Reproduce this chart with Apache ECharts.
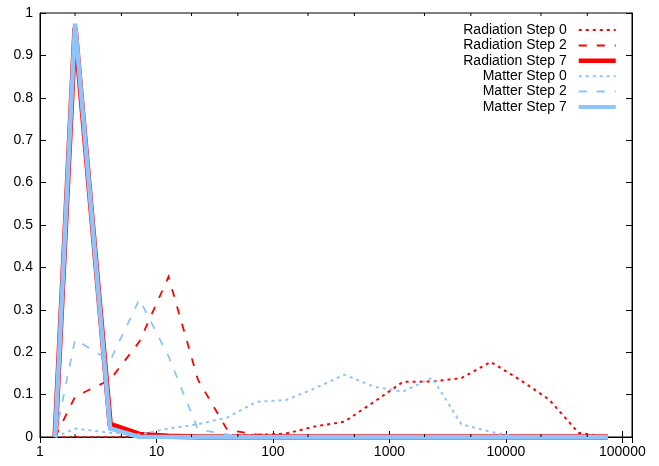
<!DOCTYPE html>
<html>
<head>
<meta charset="utf-8">
<script src="https://cdn.jsdelivr.net/npm/echarts@6/dist/echarts.min.js"></script>
<style>
html,body{margin:0;padding:0;background:#fff;}
#c{width:659px;height:466px;}
</style>
</head>
<body>
<div id="c"></div>
<script>
// x grid (shared by all series)
const xValues = [1.35, 2, 4, 7.14, 12.7, 22.7, 40.5, 72.2, 129, 230, 410, 731, 1305, 2328, 4152, 7406, 13210, 23565, 42035, 75000];
const radStep0 = [0, 0, 0, 0, 0, 0, 0.003, 0.005, 0.008, 0.025, 0.036, 0.082, 0.13, 0.131, 0.139, 0.177, 0.135, 0.088, 0.01, 0];
const radStep2 = [0, 0.095, 0.135, 0.225, 0.378, 0.135, 0.017, 0.006, 0.003, 0, 0, 0, 0, 0, 0, 0, 0, 0, 0, 0];
const radStep7 = [0, 0.965, 0.03, 0.006, 0.002, 0, 0, 0, 0, 0, 0, 0, 0, 0, 0, 0, 0, 0, 0, 0];
const matStep0 = [0, 0.02, 0.01, 0.006, 0.02, 0.03, 0.046, 0.083, 0.087, 0.115, 0.147, 0.119, 0.107, 0.14, 0.03, 0.012, 0, 0, 0, 0];
const matStep2 = [0, 0.23, 0.18, 0.325, 0.19, 0.018, 0.006, 0, 0, 0, 0, 0, 0, 0, 0, 0, 0, 0, 0, 0];
const matStep7 = [0, 0.975, 0.02, 0, 0, 0, 0, 0, 0, 0, 0, 0, 0, 0, 0, 0, 0, 0, 0, 0];
const seriesNames = ['Radiation Step 0', 'Radiation Step 2', 'Radiation Step 7', 'Matter Step 0', 'Matter Step 2', 'Matter Step 7'];
const minorTickVals = [2, 5, 20, 50, 200, 500, 2000, 5000, 20000, 50000];
const xTickLabels = ['1', '10', '100', '1000', '10000', '100000'];

const RED = '#ff0000';
const BLUE = '#8cc4fb';
const FONT = 'Liberation Sans, Arial, Helvetica, sans-serif';

function pairs(ys) { return xValues.map((x, i) => [x, ys[i]]); }

const styles = [
  {color: RED, width: 2, legendWidth: 2, type: [3, 4]},
  {color: RED, width: 1.8, legendWidth: 2, type: [8, 10]},
  {color: RED, width: 5.5, legendWidth: 4.5, type: 'solid'},
  {color: BLUE, width: 2, legendWidth: 2, type: [3, 4]},
  {color: BLUE, width: 1.8, legendWidth: 2, type: [8, 10]},
  {color: BLUE, width: 4.5, legendWidth: 4, type: 'solid'}
];
const datas = [radStep0, radStep2, radStep7, matStep0, matStep2, matStep7];

const lineSeries = seriesNames.map((name, i) => ({
  name: name,
  type: 'line',
  xAxisIndex: 0,
  yAxisIndex: 0,
  data: pairs(datas[i]),
  symbol: 'none',
  showSymbol: false,
  color: styles[i].color,
  lineStyle: {color: styles[i].color, width: styles[i].width, type: styles[i].type, cap: 'butt', join: 'miter'},
  z: 2 + i
}));

const tickSeries = {
  name: 'minorTicks',
  type: 'custom',
  xAxisIndex: 0,
  yAxisIndex: 0,
  silent: true,
  clip: false,
  z: 20,
  data: minorTickVals.map(v => [v, 0]),
  renderItem: function (params, api) {
    const b = api.coord([api.value(0), 0]);
    const t = api.coord([api.value(0), 1]);
    return {
      type: 'group',
      children: [
        {type: 'line', shape: {x1: b[0], y1: b[1], x2: b[0], y2: b[1] - 3}, style: {stroke: '#000', lineWidth: 1}},
        {type: 'line', shape: {x1: t[0], y1: t[1], x2: t[0], y2: t[1] + 3}, style: {stroke: '#000', lineWidth: 1}}
      ]
    };
  }
};

function xFmt(v) {
  const s = String(Math.round(v));
  return xTickLabels.indexOf(s) >= 0 ? s : '';
}

const xBase = {
  type: 'log', logBase: 10, min: 1, max: 121000,
  axisLine: {show: true, lineStyle: {color: '#000', width: 1}},
  axisTick: {show: true, inside: true, length: 6, lineStyle: {color: '#000', width: 1}},
  splitLine: {show: false},
  minorTick: {show: false},
  minorSplitLine: {show: false}
};
const yBase = {
  type: 'value', min: 0, max: 1, interval: 0.1,
  axisLine: {show: true, lineStyle: {color: '#000', width: 1}},
  axisTick: {show: true, inside: true, length: 6, lineStyle: {color: '#000', width: 1}},
  splitLine: {show: false}
};

const option = {
  animation: false,
  backgroundColor: '#fff',
  grid: {left: 40, right: 27, top: 13, bottom: 29, show: true, borderColor: '#000', borderWidth: 1, backgroundColor: 'transparent', containLabel: false},
  legend: {
    data: seriesNames.map((n, i) => ({name: n, lineStyle: {width: styles[i].legendWidth, type: styles[i].type, color: styles[i].color}})),
    orient: 'vertical',
    align: 'right',
    right: 36,
    top: 18,
    itemWidth: 37,
    itemHeight: 14,
    itemGap: 1.4,
    selectedMode: false,
    itemStyle: {opacity: 0},
    textStyle: {color: '#000', fontSize: 14, fontFamily: FONT, padding: [0, 7, 0, 0]}
  },
  xAxis: [
    Object.assign({}, xBase, {position: 'bottom',
      axisLabel: {show: true, formatter: xFmt, color: '#000', fontSize: 14, fontFamily: FONT, margin: 8, showMaxLabel: false, showMinLabel: true}}),
    Object.assign({}, xBase, {position: 'top', axisLabel: {show: false}})
  ],
  yAxis: [
    Object.assign({}, yBase, {position: 'left',
      axisLabel: {show: true, color: '#000', fontSize: 14, fontFamily: FONT, margin: 7}}),
    Object.assign({}, yBase, {position: 'right', axisLabel: {show: false}})
  ],
  series: lineSeries.concat([tickSeries])
};

const chart = echarts.init(document.getElementById('c'), null, {renderer: 'canvas'});
chart.setOption(option);
</script>
</body>
</html>
